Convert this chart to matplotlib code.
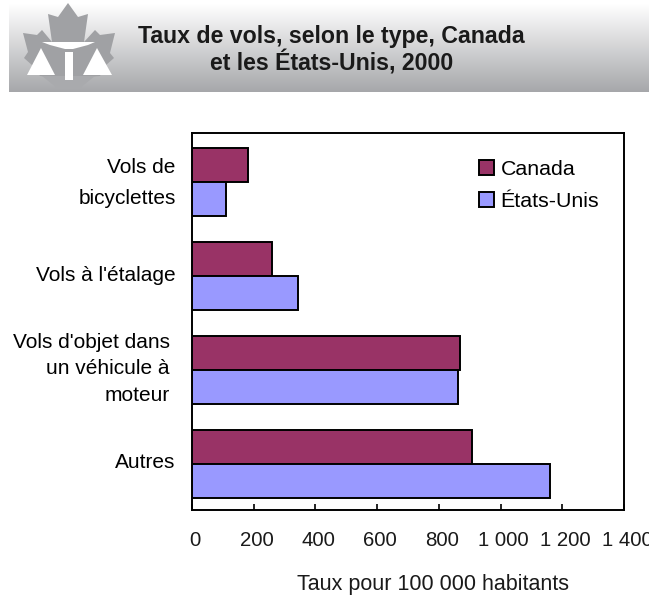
import matplotlib
matplotlib.use("Agg")
import matplotlib.pyplot as plt
import matplotlib.transforms as mtrans
from matplotlib.patches import Patch, Polygon
import numpy as np

plt.rcParams['font.family'] = ['Liberation Sans', 'DejaVu Sans']

categories = ["Vols de\nbicyclettes", "Vols à l'étalage", "Vols d'objet dans\nun véhicule à\nmoteur", "Autres"]
canada = [181, 259, 868, 907]
etats_unis = [110, 343, 862, 1160]
x_ticks = [0, 200, 400, 600, 800, 1000, 1200, 1400]
x_labels = ["0", "200", "400", "600", "800", "1 000", "1 200", "1 400"]

W, H = 649, 595
fig = plt.figure(figsize=(W / 100, H / 100), dpi=100)

# Header band with the gradient
band = fig.add_axes([9 / W, 1 - 92 / H, 1 - 9 / W, 88 / H])
band_cmap = matplotlib.colors.LinearSegmentedColormap.from_list("band", ["#a6a7aa", "#ffffff"])
band.imshow(np.linspace(1, 0, 256).reshape(-1, 1), aspect='auto', cmap=band_cmap, origin='upper', vmin=0, vmax=1)
band.axis('off')

# Logo, in pixel coordinates
logo = fig.add_axes([0, 0, 1, 1], facecolor='none')
logo.set_xlim(0, W)
logo.set_ylim(H, 0)
logo.axis('off')
leaf = [(68, 3), (78, 17), (88, 14), (84, 42), (95, 30), (100, 35), (115, 33), (110, 53), (114, 58),
        (105, 66), (100, 76), (70, 78), (40, 76), (33, 66), (24, 58), (28, 52), (23, 33), (37, 35),
        (42, 30), (52, 42), (48, 14), (58, 17)]
logo.add_patch(Polygon(leaf, closed=True, fc='#a0a1a4', ec='none'))
logo.add_patch(Polygon([(42, 76), (95, 76), (80, 88), (57, 88)], closed=True, fc='#a9aaad', ec='none'))
logo.add_patch(Polygon([(42, 42), (95, 42), (88, 45), (73, 49), (65, 49), (50, 45)], closed=True, fc='white', ec='none'))
logo.add_patch(Polygon([(65, 52), (73, 52), (73, 80), (65, 80)], closed=True, fc='white', ec='none'))
logo.add_patch(Polygon([(41, 48), (55, 75), (27, 75)], closed=True, fc='white', ec='none'))
logo.add_patch(Polygon([(97, 48), (112, 75), (83, 75)], closed=True, fc='white', ec='none'))

fig.text(331.5 / W, 1 - 37 / H, "Taux de vols, selon le type, Canada", fontsize=16.7, fontweight='bold', ha='center', va='center', color='#1a1a1a')
fig.text(331.5 / W, 1 - 63 / H, "et les États-Unis, 2000", fontsize=16.7, fontweight='bold', ha='center', va='center', color='#1a1a1a')

# Main chart
ax = fig.add_axes([192 / W, 1 - 510 / H, 432 / W, 377 / H])
y = np.arange(len(categories))
h = 0.36
ax.barh(y - h / 2, canada, h, color='#993366', edgecolor='black', linewidth=1.4, label="Canada")
ax.barh(y + h / 2, etats_unis, h, color='#9999ff', edgecolor='black', linewidth=1.4, label="États-Unis")
ax.set_xlim(0, 1400)
ax.set_ylim(3.489, -0.521)
ax.set_yticks(y)
ax.set_yticklabels(categories, fontsize=15)
ax.set_xticks(x_ticks)
ax.set_xticklabels(x_labels, fontsize=14.7, color='#1a1a1a')
ax.tick_params(axis='x', direction='in', length=4.5, width=1.2, pad=15)
ax.tick_params(axis='y', length=0, pad=16)
for lab in ax.get_xticklabels():
    lab.set_transform(lab.get_transform() + mtrans.ScaledTranslation(3 / 100, 0, fig.dpi_scale_trans))

# Category labels sit a little off the bar centres in the original
label_dx = [0, 0, -6, 0]
label_dy = [7, 2, 7, 4]
label_spacing = [1.82, 1.2, 1.52, 1.2]
for lab, dx, dy, sp in zip(ax.get_yticklabels(), label_dx, label_dy, label_spacing):
    lab.set_linespacing(sp)
    lab.set_transform(lab.get_transform() + mtrans.ScaledTranslation((dx + 6) / 100, dy / 100, fig.dpi_scale_trans))

for s in ax.spines.values():
    s.set_linewidth(1.4)
ax.set_xlabel("Taux pour 100 000 habitants", fontsize=15.5, color='#1a1a1a')
ax.xaxis.set_label_coords(0.559, -0.169)

handles = [Patch(fc='#993366', ec='black', lw=1.4), Patch(fc='#9999ff', ec='black', lw=1.4)]
ax.legend(handles, ["Canada", "États-Unis"], frameon=False, fontsize=15.4, loc='upper left', bbox_to_anchor=(0.6495, 0.946), handlelength=0.7, handleheight=0.7, handletextpad=0.3, labelspacing=0.6, borderpad=0.3, borderaxespad=0)

fig.savefig("out.png", dpi=100)
